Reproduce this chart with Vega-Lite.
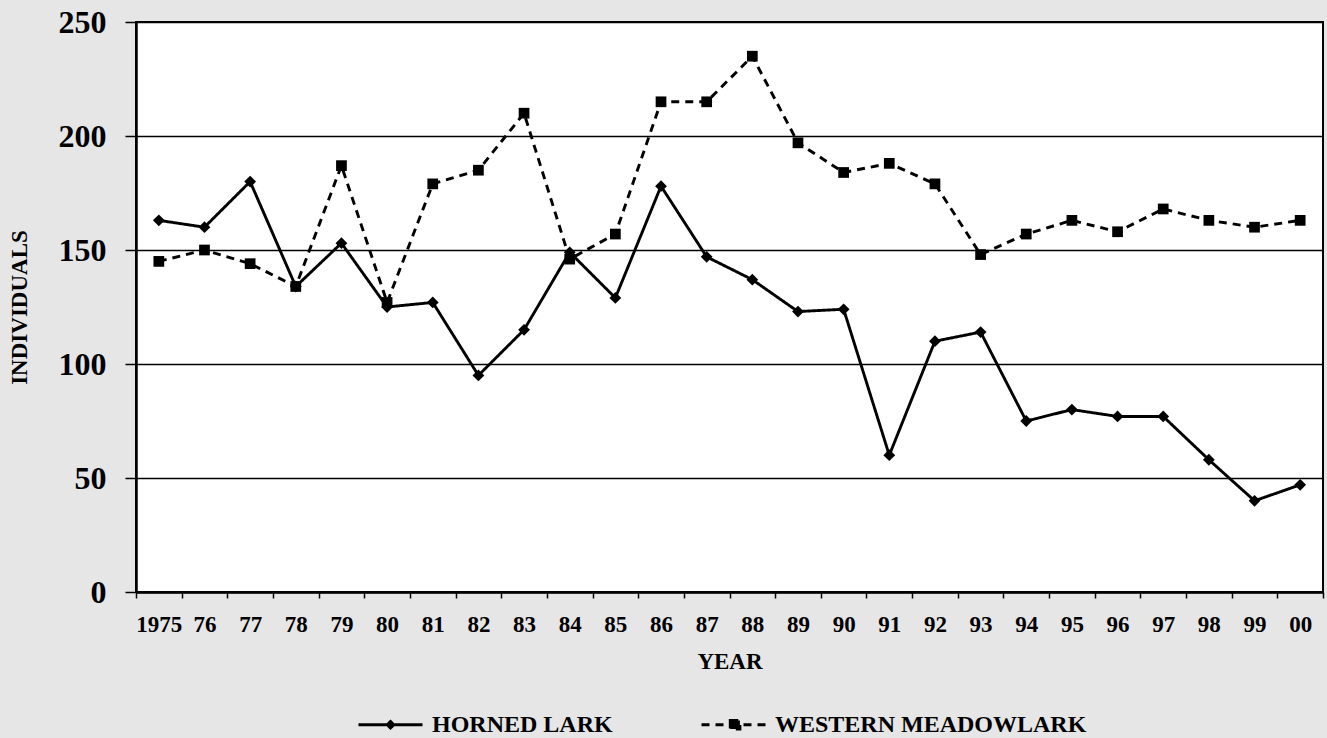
{
  "$schema": "https://vega.github.io/schema/vega-lite/v6.json",
  "width": 1187,
  "height": 570,
  "autosize": {"type": "none"},
  "padding": {"left": 136, "top": 22, "right": 4, "bottom": 146},
  "background": "#e6e6e6",
  "config": {
    "view": {"fill": "white", "stroke": "black", "strokeWidth": 2},
    "font": "Liberation Serif"
  },
  "data": {
    "values": [
      {"year": 1975, "species": "HORNED LARK", "count": 163},
      {"year": 1976, "species": "HORNED LARK", "count": 160},
      {"year": 1977, "species": "HORNED LARK", "count": 180},
      {"year": 1978, "species": "HORNED LARK", "count": 134},
      {"year": 1979, "species": "HORNED LARK", "count": 153},
      {"year": 1980, "species": "HORNED LARK", "count": 125},
      {"year": 1981, "species": "HORNED LARK", "count": 127},
      {"year": 1982, "species": "HORNED LARK", "count": 95},
      {"year": 1983, "species": "HORNED LARK", "count": 115},
      {"year": 1984, "species": "HORNED LARK", "count": 149},
      {"year": 1985, "species": "HORNED LARK", "count": 129},
      {"year": 1986, "species": "HORNED LARK", "count": 178},
      {"year": 1987, "species": "HORNED LARK", "count": 147},
      {"year": 1988, "species": "HORNED LARK", "count": 137},
      {"year": 1989, "species": "HORNED LARK", "count": 123},
      {"year": 1990, "species": "HORNED LARK", "count": 124},
      {"year": 1991, "species": "HORNED LARK", "count": 60},
      {"year": 1992, "species": "HORNED LARK", "count": 110},
      {"year": 1993, "species": "HORNED LARK", "count": 114},
      {"year": 1994, "species": "HORNED LARK", "count": 75},
      {"year": 1995, "species": "HORNED LARK", "count": 80},
      {"year": 1996, "species": "HORNED LARK", "count": 77},
      {"year": 1997, "species": "HORNED LARK", "count": 77},
      {"year": 1998, "species": "HORNED LARK", "count": 58},
      {"year": 1999, "species": "HORNED LARK", "count": 40},
      {"year": 2000, "species": "HORNED LARK", "count": 47},
      {"year": 1975, "species": "WESTERN MEADOWLARK", "count": 145},
      {"year": 1976, "species": "WESTERN MEADOWLARK", "count": 150},
      {"year": 1977, "species": "WESTERN MEADOWLARK", "count": 144},
      {"year": 1978, "species": "WESTERN MEADOWLARK", "count": 134},
      {"year": 1979, "species": "WESTERN MEADOWLARK", "count": 187},
      {"year": 1980, "species": "WESTERN MEADOWLARK", "count": 127},
      {"year": 1981, "species": "WESTERN MEADOWLARK", "count": 179},
      {"year": 1982, "species": "WESTERN MEADOWLARK", "count": 185},
      {"year": 1983, "species": "WESTERN MEADOWLARK", "count": 210},
      {"year": 1984, "species": "WESTERN MEADOWLARK", "count": 146},
      {"year": 1985, "species": "WESTERN MEADOWLARK", "count": 157},
      {"year": 1986, "species": "WESTERN MEADOWLARK", "count": 215},
      {"year": 1987, "species": "WESTERN MEADOWLARK", "count": 215},
      {"year": 1988, "species": "WESTERN MEADOWLARK", "count": 235},
      {"year": 1989, "species": "WESTERN MEADOWLARK", "count": 197},
      {"year": 1990, "species": "WESTERN MEADOWLARK", "count": 184},
      {"year": 1991, "species": "WESTERN MEADOWLARK", "count": 188},
      {"year": 1992, "species": "WESTERN MEADOWLARK", "count": 179},
      {"year": 1993, "species": "WESTERN MEADOWLARK", "count": 148},
      {"year": 1994, "species": "WESTERN MEADOWLARK", "count": 157},
      {"year": 1995, "species": "WESTERN MEADOWLARK", "count": 163},
      {"year": 1996, "species": "WESTERN MEADOWLARK", "count": 158},
      {"year": 1997, "species": "WESTERN MEADOWLARK", "count": 168},
      {"year": 1998, "species": "WESTERN MEADOWLARK", "count": 163},
      {"year": 1999, "species": "WESTERN MEADOWLARK", "count": 160},
      {"year": 2000, "species": "WESTERN MEADOWLARK", "count": 163}
    ]
  },
  "encoding": {
    "x": {
      "field": "year",
      "type": "ordinal",
      "bandPosition": 0.5,
      "scale": {"type": "band", "paddingInner": 0, "paddingOuter": 0},
      "axis": {
        "title": "YEAR",
        "labelAngle": 0,
        "labelExpr": "datum.value == 1975 ? '1975' : (datum.value ? substring(toString(datum.value), 2) : '')",
        "tickBand": "extent",
        "tickSize": 6,
        "tickColor": "black",
        "tickWidth": 1.5,
        "domainColor": "black",
        "domainWidth": 2.5,
        "labelFont": "Liberation Serif",
        "labelFontSize": 23,
        "labelFontWeight": "bold",
        "labelColor": "black",
        "labelPadding": 15,
        "titleFont": "Liberation Serif",
        "titleFontSize": 23,
        "titleFontWeight": "bold",
        "titleColor": "black",
        "titlePadding": 14,
        "grid": false
      }
    },
    "y": {
      "field": "count",
      "type": "quantitative",
      "scale": {"domain": [0, 250], "nice": false},
      "axis": {
        "title": "INDIVIDUALS",
        "values": [0, 50, 100, 150, 200, 250],
        "grid": true,
        "gridColor": "black",
        "gridWidth": 1.5,
        "gridOpacity": 1,
        "tickSize": 11,
        "tickColor": "black",
        "tickWidth": 1.5,
        "domainColor": "black",
        "domainWidth": 2.5,
        "labelFont": "Liberation Serif",
        "labelFontSize": 32,
        "labelFontWeight": "bold",
        "labelColor": "black",
        "labelPadding": 19,
        "titleFont": "Liberation Serif",
        "titleFontSize": 23,
        "titleFontWeight": "bold",
        "titleColor": "black",
        "titlePadding": 27
      }
    }
  },
  "layer": [
    {
      "mark": {"type": "line", "color": "black", "strokeWidth": 2.9},
      "encoding": {
        "strokeDash": {
          "field": "species",
          "type": "nominal",
          "scale": {"domain": ["HORNED LARK", "WESTERN MEADOWLARK"], "range": [[1, 0], [8, 6]]},
          "legend": {
            "title": null,
            "orient": "none",
            "legendX": 221,
            "legendY": 669,
            "direction": "horizontal",
            "symbolType": {"expr": "datum.value === 'HORNED LARK' ? 'M-1,0H1M-0.1,0L0,-0.1L0.1,0L0,0.1Z' : 'M-1,0H1M-0.1,-0.13H0.2V0.13H-0.1Z'"},
            "symbolSize": 4096,
            "symbolStrokeWidth": 3,
            "symbolFillColor": "black",
            "symbolStrokeColor": "black",
            "symbolOpacity": 1,
            "labelFont": "Liberation Serif",
            "labelFontSize": 24,
            "labelFontWeight": "bold",
            "labelColor": "black",
            "labelLimit": 500,
            "labelOffset": 8,
            "columnPadding": 82
          }
        }
      }
    },
    {
      "transform": [{"filter": "datum.species === 'HORNED LARK'"}],
      "mark": {"type": "point", "filled": true, "color": "black", "opacity": 1, "size": 115, "shape": "M0,-1.1L1.1,0L0,1.1L-1.1,0Z"}
    },
    {
      "transform": [{"filter": "datum.species === 'WESTERN MEADOWLARK'"}],
      "mark": {"type": "point", "filled": true, "color": "black", "opacity": 1, "size": 115, "shape": "square"}
    }
  ]
}
